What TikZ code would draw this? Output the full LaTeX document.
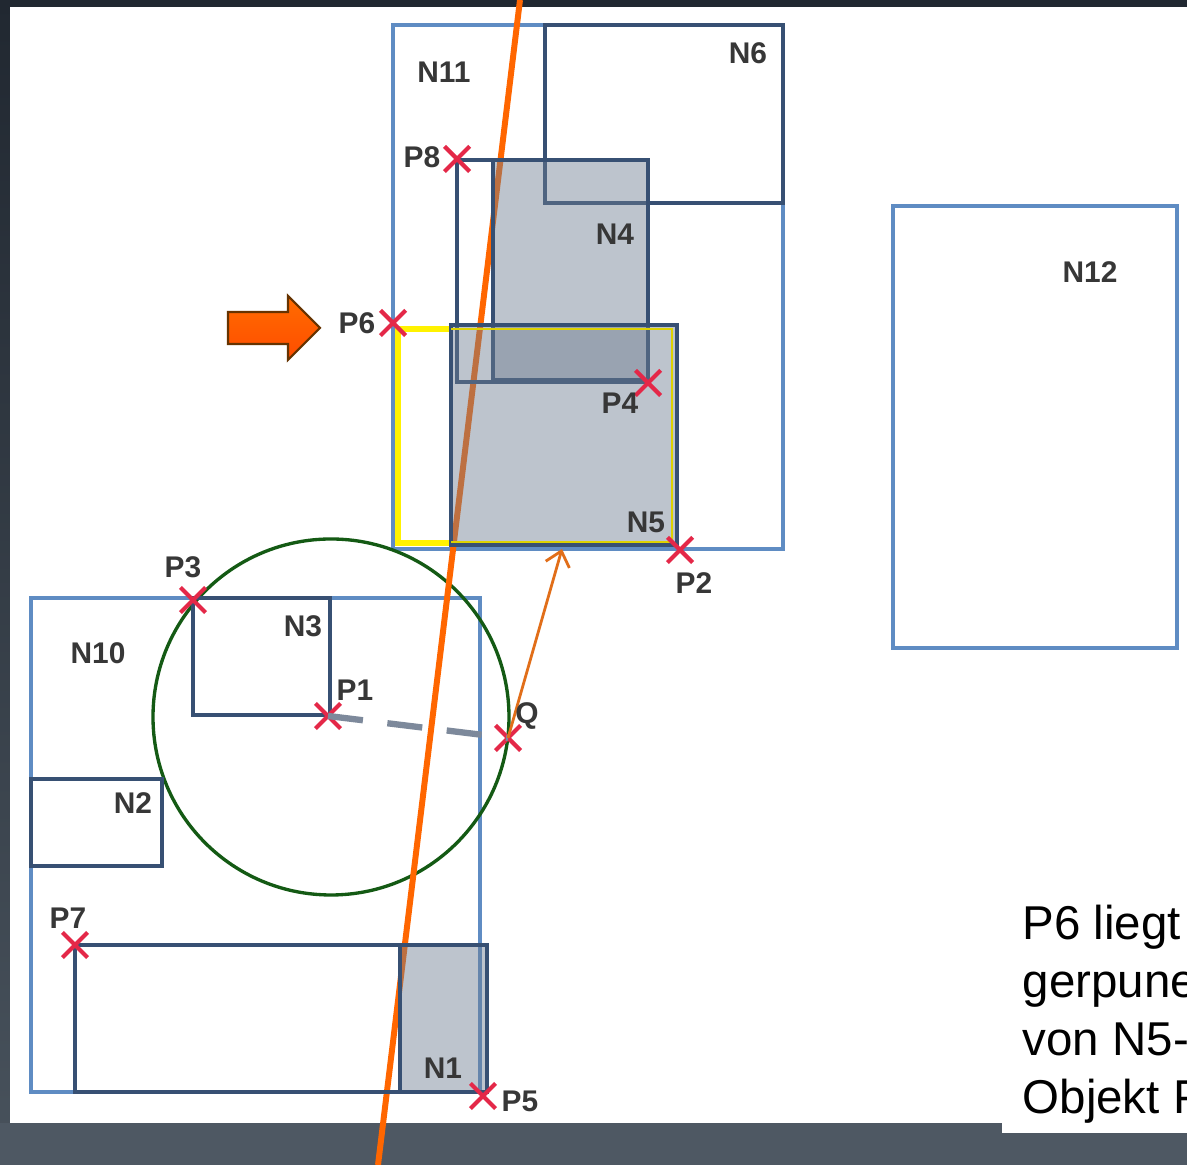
\documentclass[tikz,border=0pt]{standalone}
\usepackage{fontspec}
\setsansfont{Liberation Sans}
\usetikzlibrary{shapes.misc, arrows.meta}

\definecolor{bgtop}{RGB}{33,40,49}
\definecolor{bgbot}{RGB}{72,82,92}
\definecolor{bandgrey}{RGB}{78,88,99}
\definecolor{frameblue}{RGB}{95,140,195}
\definecolor{framedark}{RGB}{55,80,115}
\definecolor{boxgrey}{RGB}{110,125,145}
\definecolor{cutorange}{RGB}{255,102,0}
\definecolor{hintorange}{RGB}{225,110,25}
\definecolor{circgreen}{RGB}{20,90,20}
\definecolor{crossred}{RGB}{228,40,72}
\definecolor{distgrey}{RGB}{125,137,155}
\definecolor{labelgrey}{RGB}{55,55,55}

\begin{document}
\begin{tikzpicture}[x=0.01cm, y=-0.01cm,
  frame/.style={draw=frameblue, line width=1.35pt},
  inner/.style={draw=framedark, line width=1pt},
  shadebox/.style={fill=boxgrey, fill opacity=0.45, draw=framedark, line width=1pt},
  pmark/.style={cross out, draw=crossred, line width=1.2pt, minimum size=0.21cm, inner sep=0pt},
  lbl/.style={font=\sffamily\bfseries\fontsize{8.5}{8.5}\selectfont, text=labelgrey, inner sep=0pt}]

  \useasboundingbox (0,0) rectangle (1187,1165);

  % slide background
  \shade[top color=bgtop, bottom color=bgbot] (0,0) rectangle (1187,1165);
  \fill[white] (10,7) rectangle (1187,1123);
  \fill[bandgrey] (0,1123) rectangle (1187,1165);

  % outer frames
  \draw[frame] (393,25) rectangle (783,549);
  \draw[frame] (893,206) rectangle (1177,648);
  \draw[frame] (31,598) rectangle (480,1092);
  \draw[inner] (545,25) -- (783,25) -- (783,203) -- (545,203) -- cycle;

  % search circle round P1
  \draw[circgreen, line width=0.95pt] (331,717) circle [radius=178];

  % cutting line
  \draw[cutorange, line width=1.7pt] (520,0) -- (378,1165);

  % inner boxes
  \draw[yellow, line width=1.7pt] (451,329) -- (398,329) -- (398,543) -- (451,543);
  \draw[inner] (457,160) rectangle (648,382);
  \draw[shadebox] (493,160) rectangle (648,380);
  \draw[shadebox] (451,325) rectangle (677,545);
  \draw[yellow!70!olive, line width=0.5pt] (451,329) -- (672,329) -- (672,542) -- (451,542);
  \draw[inner] (193,598) rectangle (330,715);
  \draw[inner] (31,779) rectangle (162,866);
  \draw[inner] (75,945) rectangle (487,1092);
  \draw[shadebox] (400,945) rectangle (487,1092);

  % points
  \node[pmark] (p8) at (457,159) {};
  \node[pmark] (p6) at (393,323) {};
  \node[pmark] (p4) at (648,383) {};
  \node[pmark] (p2) at (680,550) {};
  \node[pmark] (p3) at (193,600) {};
  \node[pmark] (p1) at (328,716) {};
  \node[pmark] (q) at (508,738) {};
  \node[pmark] (p7) at (75,945) {};
  \node[pmark] (p5) at (483,1096) {};
  \coordinate (n5base) at (562,549);

  % distance P1 -- Q and hint arrow
  \draw[distgrey, line width=1.8pt, dash pattern=on 10pt off 7pt] (p1.center) -- (q.center);
  \draw[hintorange, line width=0.8pt, -{Straight Barb[length=4pt, width=7pt]}] (q.center) -- (n5base);

  % labels
  \node[lbl] (n11lbl) at (444,72) {N11};
  \node[lbl] (n6lbl) at (748,53) {N6};
  \node[lbl] (n4lbl) at (615,234) {N4};
  \node[lbl] (n5lbl) at (646,522) {N5};
  \node[lbl] (n12lbl) at (1090,272) {N12};
  \node[lbl] (n10lbl) at (98,653) {N10};
  \node[lbl] (n3lbl) at (303,626) {N3};
  \node[lbl] (n2lbl) at (133,803) {N2};
  \node[lbl] (n1lbl) at (443,1068) {N1};
  \node[lbl] (p8lbl) at (422,157) {P8};
  \node[lbl] (p6lbl) at (357,323) {P6};
  \node[lbl] (p4lbl) at (620,403) {P4};
  \node[lbl] (p2lbl) at (694,583) {P2};
  \node[lbl] (p3lbl) at (183,567) {P3};
  \node[lbl] (p1lbl) at (355,690) {P1};
  \node[lbl] (qlbl) at (527,716) {Q};
  \node[lbl] (p7lbl) at (68,918) {P7};
  \node[lbl] (p5lbl) at (520,1101) {P5};

  % pointer to P6
  \path[top color=orange!85!red, bottom color=orange!60!red, draw=orange!40!black, line width=0.6pt]
    (228,312) -- (288,312) -- (288,296) -- (320,328) -- (288,360) -- (288,344) -- (228,344) -- cycle;

  % note box
  \fill[white] (1002,880) rectangle (1187,1133);
  \begin{scope}
    \clip (1002,880) rectangle (1187,1133);
    \node[anchor=north west, align=left, inner sep=0pt, font=\sffamily\fontsize{13.5}{16.5}\selectfont] (note) at (1022,904)
      {P6 liegt\\gerpune\\von N5-\\Objekt P};
  \end{scope}
\end{tikzpicture}
\end{document}
